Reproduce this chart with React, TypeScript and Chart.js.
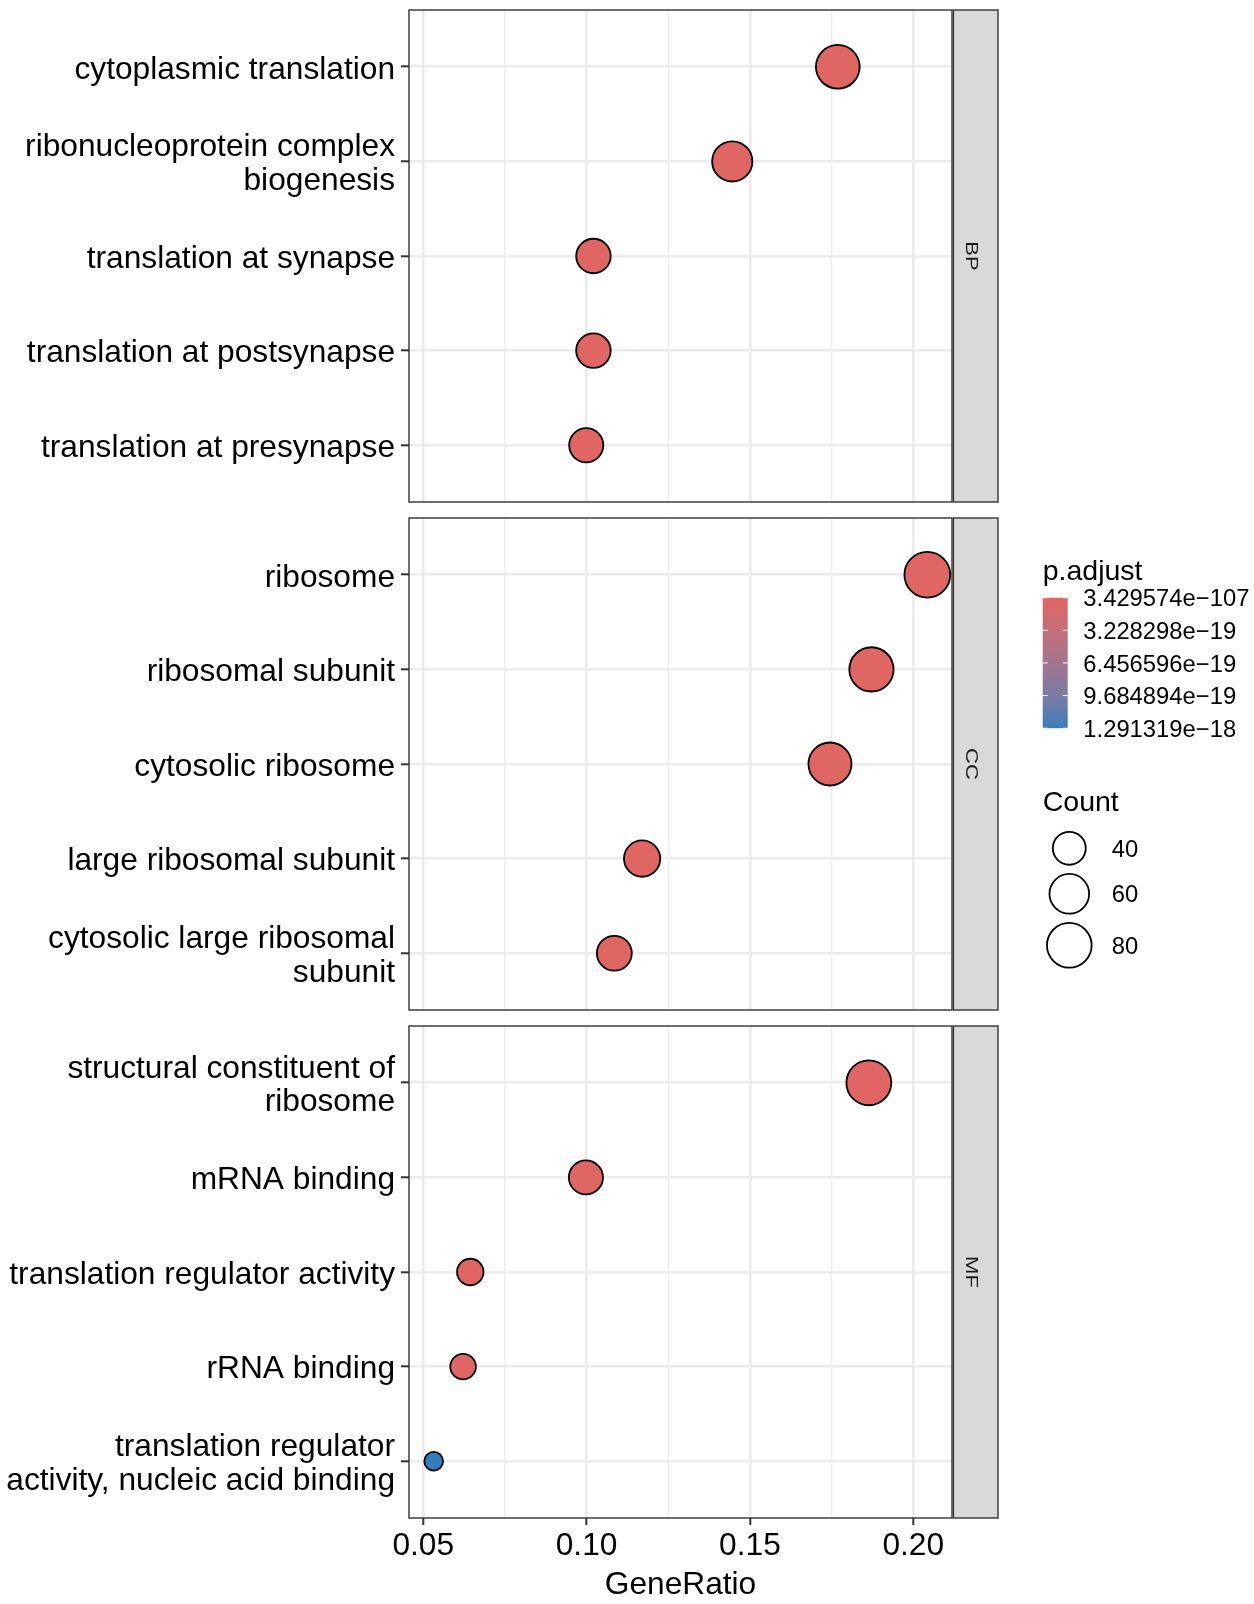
import React, { useEffect, useRef } from "react";
import { Chart, registerables } from "chart.js";

Chart.register(...registerables);

// ---------------- data ----------------
const ontologyNames = ["BP", "CC", "MF"];

const bpTerms = [
  "cytoplasmic translation",
  "ribonucleoprotein complex biogenesis",
  "translation at synapse",
  "translation at postsynapse",
  "translation at presynapse",
];
const bpGeneRatio = [0.1769, 0.1446, 0.1021, 0.1021, 0.0999];
const bpCount = [76, 62, 44, 44, 43];
const bpPAdjust = [2.4e-88, 6.1e-52, 3.3e-41, 3.3e-41, 1.9e-40];

const ccTerms = [
  "ribosome",
  "ribosomal subunit",
  "cytosolic ribosome",
  "large ribosomal subunit",
  "cytosolic large ribosomal subunit",
];
const ccGeneRatio = [0.2043, 0.1872, 0.1745, 0.117, 0.1085];
const ccCount = [85, 78, 73, 49, 45];
const ccPAdjust = [3.429574e-107, 8.2e-101, 4.7e-99, 1.6e-58, 2.2e-55];

const mfTerms = [
  "structural constituent of ribosome",
  "mRNA binding",
  "translation regulator activity",
  "rRNA binding",
  "translation regulator activity, nucleic acid binding",
];
const mfGeneRatio = [0.1864, 0.0998, 0.0644, 0.0622, 0.0532];
const mfCount = [81, 43, 28, 27, 23];
const mfPAdjust = [5.3e-94, 7.4e-24, 2.8e-21, 9.5e-21, 1.291319e-18];

const xMajorBreaks = [0.05, 0.1, 0.15, 0.2];
const xMinorBreaks = [0.075, 0.125, 0.175];
const countBreaks = [40, 60, 80];
const pAdjustBreaks = [3.429574e-107, 3.228298e-19, 6.456596e-19, 9.684894e-19, 1.291319e-18];

const facets = [
  { name: ontologyNames[0], terms: bpTerms, ratio: bpGeneRatio, count: bpCount, p: bpPAdjust },
  { name: ontologyNames[1], terms: ccTerms, ratio: ccGeneRatio, count: ccCount, p: ccPAdjust },
  { name: ontologyNames[2], terms: mfTerms, ratio: mfGeneRatio, count: mfCount, p: mfPAdjust },
];

// ---------------- layout & style ----------------
const FONT = "'Liberation Sans', Arial, Helvetica, sans-serif";
const PAGE_W = 1254;
const PAGE_H = 1604;
const PANEL_LEFT = 409;
const PANEL_RIGHT = 952;
const STRIP_RIGHT = 998;
const PANEL_TOP = [10, 518, 1026];
const PANEL_H = 492;
const MARGIN = 48;
const X_AXIS_H = 86;
const CANVAS_TOP = PANEL_TOP.map((t) => t - MARGIN);
const CANVAS_H = PANEL_TOP.map((t, i) =>
  i === PANEL_TOP.length - 1 ? PAGE_H - (t - MARGIN) : PANEL_H + 2 * MARGIN
);
const AXIS_FONT = 31.7;

const LOW_COLOR = "#E06663";
const HIGH_COLOR = "#327EBA";

// ---------------- colour ramp (CIELAB interpolation) ----------------
function hexToRgb(hex: string): number[] {
  const n = parseInt(hex.slice(1), 16);
  return [(n >> 16) & 255, (n >> 8) & 255, n & 255];
}
const toLin = (c: number) => {
  const v = c / 255;
  return v <= 0.04045 ? v / 12.92 : Math.pow((v + 0.055) / 1.055, 2.4);
};
const fromLin = (v: number) => {
  const c = v <= 0.0031308 ? 12.92 * v : 1.055 * Math.pow(v, 1 / 2.4) - 0.055;
  return Math.round(Math.min(1, Math.max(0, c)) * 255);
};
const WX = 0.95047, WY = 1, WZ = 1.08883;
function rgbToLab(rgb: number[]): number[] {
  const R = toLin(rgb[0]), G = toLin(rgb[1]), B = toLin(rgb[2]);
  const X = (0.4124564 * R + 0.3575761 * G + 0.1804375 * B) / WX;
  const Y = (0.2126729 * R + 0.7151522 * G + 0.072175 * B) / WY;
  const Z = (0.0193339 * R + 0.119192 * G + 0.9503041 * B) / WZ;
  const f = (t: number) => (t > 216 / 24389 ? Math.cbrt(t) : ((24389 / 27) * t + 16) / 116);
  const fx = f(X), fy = f(Y), fz = f(Z);
  return [116 * fy - 16, 500 * (fx - fy), 200 * (fy - fz)];
}
function labToRgb(lab: number[]): number[] {
  const fy = (lab[0] + 16) / 116;
  const fx = fy + lab[1] / 500;
  const fz = fy - lab[2] / 200;
  const finv = (t: number) => (t * t * t > 216 / 24389 ? t * t * t : (116 * t - 16) / (24389 / 27));
  const X = finv(fx) * WX, Y = finv(fy) * WY, Z = finv(fz) * WZ;
  const R = 3.2404542 * X - 1.5371385 * Y - 0.4985314 * Z;
  const G = -0.969266 * X + 1.8760108 * Y + 0.041556 * Z;
  const B = 0.0556434 * X - 0.2040259 * Y + 1.0572252 * Z;
  return [fromLin(R), fromLin(G), fromLin(B)];
}
const LAB_LOW = rgbToLab(hexToRgb(LOW_COLOR));
const LAB_HIGH = rgbToLab(hexToRgb(HIGH_COLOR));
function rampColor(t: number): string {
  const u = Math.min(1, Math.max(0, t));
  const lab = LAB_LOW.map((v, k) => v + (LAB_HIGH[k] - v) * u);
  const [r, g, b] = labToRgb(lab);
  return `rgb(${r},${g},${b})`;
}

const allP = [...bpPAdjust, ...ccPAdjust, ...mfPAdjust];
const P_MIN = Math.min(...allP);
const P_MAX = Math.max(...allP);
const colorForP = (p: number) => rampColor((p - P_MIN) / (P_MAX - P_MIN));

// ---------------- size scale (area ~ count) ----------------
const allCounts = [...bpCount, ...ccCount, ...mfCount];
const C_MIN = Math.min(...allCounts);
const C_MAX = Math.max(...allCounts);
const R_SMALL = 9.4;
const R_LARGE = 22.9;
function radiusForCount(c: number): number {
  const t = Math.max(0, (c - C_MIN) / (C_MAX - C_MIN));
  return R_SMALL + (R_LARGE - R_SMALL) * Math.sqrt(t);
}

// ---------------- x limits (5% expansion of the data range) ----------------
const allRatios = [...bpGeneRatio, ...ccGeneRatio, ...mfGeneRatio];
const RATIO_LO = Math.min(...allRatios);
const RATIO_HI = Math.max(...allRatios);
const X_MIN = RATIO_LO - 0.05 * (RATIO_HI - RATIO_LO);
const X_MAX = RATIO_HI + 0.05 * (RATIO_HI - RATIO_LO);

function wrapLabel(s: string, width = 30): string[] {
  const words = s.split(" ");
  const lines: string[] = [];
  let cur = "";
  for (const w of words) {
    if (!cur) cur = w;
    else if ((cur + " " + w).length <= width) cur += " " + w;
    else {
      lines.push(cur);
      cur = w;
    }
  }
  if (cur) lines.push(cur);
  return lines;
}

const isMajor = (v: number) => xMajorBreaks.some((b) => Math.abs(b - v) < 1e-9);
const fmtP = (v: number) => v.toExponential(6).replace("e-", "e\u2212").replace("e+", "e");

// ---------------- plugins ----------------
const facetFrame = {
  id: "facetFrame",
  afterDraw(chart: any, _args: any, opts: any) {
    const { ctx, chartArea: a } = chart;
    ctx.save();
    ctx.strokeStyle = "#333333";
    ctx.lineWidth = 1.4;
    ctx.strokeRect(a.left, a.top, a.right - a.left, a.bottom - a.top);
    const sx = a.right + 1.4;
    const sw = STRIP_RIGHT - sx;
    ctx.fillStyle = "#D9D9D9";
    ctx.fillRect(sx, a.top, sw, a.bottom - a.top);
    ctx.strokeRect(sx, a.top, sw, a.bottom - a.top);
    ctx.translate(966, (a.top + a.bottom) / 2);
    ctx.rotate(Math.PI / 2);
    ctx.scale(1, 0.76);
    ctx.font = `22px ${FONT}`;
    ctx.fillStyle = "#1A1A1A";
    ctx.textAlign = "center";
    ctx.textBaseline = "alphabetic";
    ctx.fillText(opts.label, 0, 0);
    ctx.restore();
  },
};

const LEG_X = 1042.7;
const BAR_W = 25;
const BAR_TOP = 597.7;
const BAR_BOTTOM = 728.2;
const LEG_LABEL_X = 1083.3;
const LEG_TEXT = 23.8;
const LEG_TEXT_DY = 2;
const SIZE_KEY_X = 1069.3;
const SIZE_KEY_Y = [848.3, 893.8, 945.3];
const SIZE_LABEL_X = 1111.7;

const guideLegend = {
  id: "guideLegend",
  afterDraw(chart: any, _args: any, opts: any) {
    if (!opts.show) return;
    const ctx = chart.ctx;
    ctx.save();
    ctx.translate(0, -opts.offsetY);

    // colour guide
    ctx.fillStyle = "#000000";
    ctx.textAlign = "left";
    ctx.textBaseline = "alphabetic";
    ctx.font = `28.5px ${FONT}`;
    ctx.fillText("p.adjust", LEG_X, 579.5);

    const g = ctx.createLinearGradient(0, BAR_TOP, 0, BAR_BOTTOM);
    const steps = 40;
    for (let k = 0; k <= steps; k++) g.addColorStop(k / steps, rampColor(k / steps));
    ctx.fillStyle = g;
    ctx.fillRect(LEG_X, BAR_TOP, BAR_W, BAR_BOTTOM - BAR_TOP);

    ctx.font = `${LEG_TEXT}px ${FONT}`;
    ctx.textBaseline = "middle";
    pAdjustBreaks.forEach((b) => {
      const t = (b - P_MIN) / (P_MAX - P_MIN);
      const y = BAR_TOP + t * (BAR_BOTTOM - BAR_TOP);
      ctx.strokeStyle = "#FFFFFF";
      ctx.lineWidth = 1;
      ctx.beginPath();
      ctx.moveTo(LEG_X, y);
      ctx.lineTo(LEG_X + 5, y);
      ctx.moveTo(LEG_X + BAR_W - 5, y);
      ctx.lineTo(LEG_X + BAR_W, y);
      ctx.stroke();
      ctx.fillStyle = "#000000";
      ctx.fillText(fmtP(b), LEG_LABEL_X, y + LEG_TEXT_DY);
    });

    // size guide
    ctx.textBaseline = "alphabetic";
    ctx.font = `28.5px ${FONT}`;
    ctx.fillText("Count", LEG_X, 811);
    ctx.font = `${LEG_TEXT}px ${FONT}`;
    ctx.textBaseline = "middle";
    countBreaks.forEach((c, k) => {
      const y = SIZE_KEY_Y[k];
      ctx.beginPath();
      ctx.arc(SIZE_KEY_X, y, radiusForCount(c), 0, Math.PI * 2);
      ctx.fillStyle = "#FFFFFF";
      ctx.fill();
      ctx.strokeStyle = "#000000";
      ctx.lineWidth = 1.8;
      ctx.stroke();
      ctx.fillStyle = "#000000";
      ctx.fillText(String(c), SIZE_LABEL_X, y + LEG_TEXT_DY);
    });
    ctx.restore();
  },
};

// ---------------- chart config ----------------
function buildConfig(i: number): any {
  const f = facets[i];
  const showX = i === facets.length - 1;
  const radii = f.count.map(radiusForCount);
  const fills = f.p.map(colorForP);
  const axisFont = { family: FONT, size: AXIS_FONT, lineHeight: 1.2 };
  return {
    type: "scatter",
    data: {
      datasets: [
        {
          label: f.name,
          data: f.terms.map((_, k) => ({ x: f.ratio[k], y: k })),
          pointRadius: radii,
          pointHoverRadius: radii,
          pointBackgroundColor: fills,
          pointHoverBackgroundColor: fills,
          pointBorderColor: "#000000",
          pointHoverBorderColor: "#000000",
          pointBorderWidth: 1.8,
          pointHoverBorderWidth: 1.8,
          clip: false,
        },
      ],
    },
    options: {
      responsive: false,
      maintainAspectRatio: false,
      animation: false,
      events: [],
      layout: {
        padding: {
          left: 0,
          right: PAGE_W - PANEL_RIGHT,
          top: MARGIN,
          bottom: showX ? 0 : MARGIN,
        },
      },
      plugins: {
        legend: { display: false },
        tooltip: { enabled: false },
        facetFrame: { label: f.name },
        guideLegend: { show: i === 1, offsetY: CANVAS_TOP[i] },
      },
      scales: {
        x: {
          type: "linear",
          position: "bottom",
          min: X_MIN,
          max: X_MAX,
          afterBuildTicks: (s: any) => {
            s.ticks = [...xMajorBreaks, ...xMinorBreaks].sort((a, b) => a - b).map((value) => ({ value }));
          },
          afterFit: (s: any) => {
            s.height = showX ? X_AXIS_H : 0;
          },
          border: { display: false },
          grid: {
            color: "#EBEBEB",
            lineWidth: (c: any) => (c.tick && !isMajor(c.tick.value) ? 1.3 : 2.6),
            drawTicks: showX,
            tickLength: 7,
            tickWidth: 2,
            tickColor: (c: any) => (c.tick && isMajor(c.tick.value) ? "#333333" : "rgba(0,0,0,0)"),
          },
          ticks: {
            display: showX,
            autoSkip: false,
            maxRotation: 0,
            minRotation: 0,
            padding: 2,
            color: "#000000",
            font: axisFont,
            callback: (v: any) => (isMajor(Number(v)) ? Number(v).toFixed(2) : ""),
          },
          title: {
            display: showX,
            text: "GeneRatio",
            color: "#000000",
            font: axisFont,
            padding: { top: 0, bottom: 0 },
          },
        },
        y: {
          type: "linear",
          position: "left",
          min: -0.6,
          max: f.terms.length - 0.4,
          reverse: true,
          afterBuildTicks: (s: any) => {
            s.ticks = f.terms.map((_, k) => ({ value: k }));
          },
          afterFit: (s: any) => {
            s.width = PANEL_LEFT;
          },
          border: { display: false },
          grid: {
            color: "#EBEBEB",
            lineWidth: 2.6,
            drawTicks: true,
            tickLength: 8,
            tickWidth: 2,
            tickColor: "#333333",
          },
          ticks: {
            autoSkip: false,
            padding: 6,
            labelOffset: 3,
            color: "#000000",
            font: { family: FONT, size: AXIS_FONT, lineHeight: 1.07 },
            callback: (v: any) => wrapLabel(f.terms[Math.round(Number(v))] ?? ""),
          },
        },
      },
    },
    plugins: [facetFrame, guideLegend],
  };
}

export default function App() {
  const r0 = useRef<HTMLCanvasElement | null>(null);
  const r1 = useRef<HTMLCanvasElement | null>(null);
  const r2 = useRef<HTMLCanvasElement | null>(null);
  const refs = [r0, r1, r2];

  useEffect(() => {
    const charts = refs.map((r, i) => new Chart(r.current as HTMLCanvasElement, buildConfig(i)));
    return () => charts.forEach((c) => c.destroy());
  }, []);

  return (
    <div
      style={{
        position: "absolute",
        left: 0,
        top: 0,
        width: PAGE_W,
        height: PAGE_H,
        background: "#FFFFFF",
        overflow: "hidden",
      }}
    >
      {facets.map((f, i) => (
        <canvas
          key={f.name}
          ref={refs[i]}
          width={PAGE_W}
          height={CANVAS_H[i]}
          style={{ position: "absolute", left: 0, top: CANVAS_TOP[i], width: PAGE_W, height: CANVAS_H[i] }}
        />
      ))}
    </div>
  );
}
